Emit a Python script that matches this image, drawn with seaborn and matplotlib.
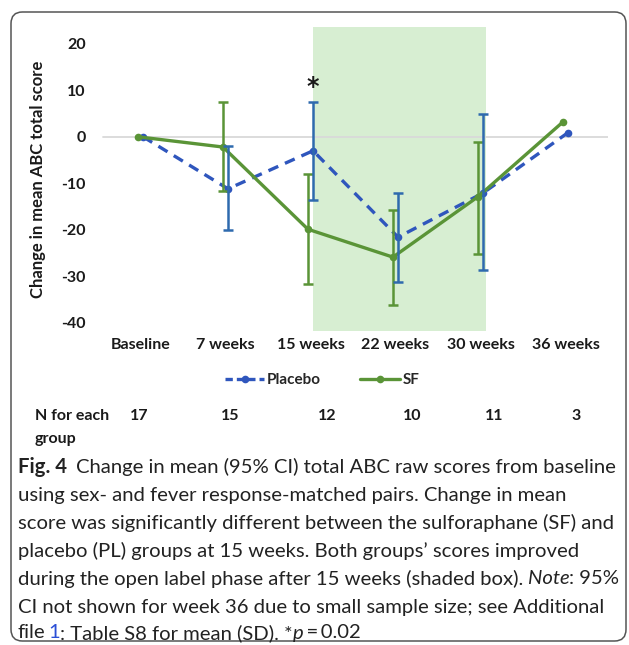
import numpy as np
import pandas as pd
import matplotlib
matplotlib.use("Agg")
import matplotlib.pyplot as plt
from matplotlib.patches import FancyBboxPatch
from matplotlib.lines import Line2D
import seaborn as sns

# --- data -------------------------------------------------------------
timepoints = ["Baseline", "7 weeks", "15 weeks", "22 weeks", "30 weeks", "36 weeks"]
n_per_group = ["17", "15", "12", "10", "11", "3"]

placebo_mean = [0.0, -11.2, -3.0, -21.6, -12.1, 0.9]
placebo_low = [np.nan, -20.0, -13.5, -31.3, -28.6, np.nan]
placebo_high = [np.nan, -2.0, 7.5, -12.0, 4.9, np.nan]

sf_mean = [0.0, -2.2, -19.9, -25.9, -12.9, 3.2]
sf_low = [np.nan, -11.7, -31.7, -36.1, -25.2, np.nan]
sf_high = [np.nan, 7.5, -7.9, -15.7, -1.1, np.nan]

y_ticks = [20, 10, 0, -10, -20, -30, -40]

# --- style --------------------------------------------------------------
sns.set_theme(style="white")
plt.rcParams["font.family"] = ["Lato", "DejaVu Sans"]

BLUE_LINE = "#2f56bd"
BLUE_BAR = "#2e6aae"
GREEN = "#5a9437"
SHADE = "#d7eed2"
DARK = "#1a1a1a"

W, H = 629, 645
fig = plt.figure(figsize=(W / 100, H / 100), dpi=100)


def fx(px):
    return px / W


def fy(py):
    return 1 - py / H


ax = fig.add_axes([fx(98), fy(331), fx(608) - fx(98), fy(26.7) - fy(331)])

pos = np.arange(len(timepoints))
df = pd.DataFrame({
    "pos": np.concatenate([pos + 0.03, pos - 0.03]),
    "change": placebo_mean + sf_mean,
    "group": ["Placebo"] * len(pos) + ["SF"] * len(pos),
})

# open label phase (shaded box)
ax.axvspan(2.03, 4.06, color=SHADE, lw=0, zorder=0)
ax.axhline(0, color="#d9d9d9", lw=1.3, zorder=1, xmin=0.01, xmax=1.0)

sns.lineplot(data=df[df.group == "Placebo"], x="pos", y="change", ax=ax,
             color=BLUE_LINE, lw=2.4, marker="o", markersize=5.5,
             markeredgewidth=0, zorder=3, legend=False)
ax.lines[-1].set_linestyle((0, (3.2, 2.2)))
sns.lineplot(data=df[df.group == "SF"], x="pos", y="change", ax=ax,
             color=GREEN, lw=2.4, marker="o", markersize=5.5,
             markeredgewidth=0, zorder=4, legend=False)

pm = np.array(placebo_mean)
sm = np.array(sf_mean)
ax.errorbar(pos - 0.03, sm,
            yerr=[sm - np.array(sf_low), np.array(sf_high) - sm],
            fmt="none", ecolor=GREEN, elinewidth=1.8, capsize=3.5,
            capthick=1.8, zorder=5)
ax.errorbar(pos + 0.03, pm,
            yerr=[pm - np.array(placebo_low), np.array(placebo_high) - pm],
            fmt="none", ecolor=BLUE_BAR, elinewidth=1.8, capsize=3.5,
            capthick=1.8, zorder=6)

ax.text(2.03, placebo_high[2] + 0.6, "*", ha="center", va="bottom",
        fontsize=17, fontweight="bold", color=DARK, family="DejaVu Sans")

ax.set_xlim(-0.5, 5.5)
ax.set_ylim(-41.8, 23.7)
ax.set_yticks(y_ticks)
ax.set_yticklabels([str(v) for v in y_ticks])
ax.set_xticks(pos)
ax.set_xticklabels(timepoints)
for lab in ax.get_xticklabels() + ax.get_yticklabels():
    lab.set_fontweight("bold")
    lab.set_fontsize(11.5)
    lab.set_color(DARK)
ax.tick_params(axis="y", length=0, pad=9)
ax.tick_params(axis="x", length=0, pad=5)
ax.set_xlabel("")
ax.set_ylabel("Change in mean ABC total score", fontsize=12,
              fontweight="bold", color=DARK, labelpad=11)
for s in ax.spines.values():
    s.set_visible(False)
ax.patch.set_alpha(0)

# legend
handles = [
    Line2D([], [], color=BLUE_LINE, lw=2.4, ls=(0, (2.2, 1.2)), marker="o",
           markersize=5.5, markeredgewidth=0),
    Line2D([], [], color=GREEN, lw=2.4, marker="o", markersize=5.5,
           markeredgewidth=0),
]
fig.legend(handles, ["Placebo", "SF"], loc="center",
           bbox_to_anchor=(fx(322), fy(380)), ncol=2, frameon=False,
           prop={"family": "Lato", "weight": "bold", "size": 11},
           handlelength=2.6, handletextpad=0.15, columnspacing=2.6)

# sample sizes
fig.text(fx(35), fy(416), "N for each", fontsize=11.5, fontweight="bold",
         color=DARK, ha="left", va="center")
fig.text(fx(35), fy(439), "group", fontsize=11.5, fontweight="bold",
         color=DARK, ha="left", va="center")
n_x = [139, 230, 327, 412, 494, 576]
for xp, n in zip(n_x, n_per_group):
    fig.text(fx(xp), fy(416), n, fontsize=11.5, fontweight="bold",
             color=DARK, ha="center", va="center")

# caption
fig.canvas.draw()
renderer = fig.canvas.get_renderer()
CAP = 14.6


def caption_line(py, segments, x0=18):
    x = x0
    for text, style, gap in segments:
        kw = dict(fontsize=CAP, color="#222222", ha="left", va="center")
        kw.update(style)
        t = fig.text(fx(x), fy(py), text, **kw)
        x += t.get_window_extent(renderer).width + gap


sp = CAP * 0.3
caption = [
    (467, [("Fig. 4", {"fontweight": "bold"}, sp * 2.0),
           ("Change in mean (95% CI) total ABC raw scores from baseline", {}, 0)]),
    (495, [("using sex- and fever response-matched pairs. Change in mean", {}, 0)]),
    (523, [("score was significantly different between the sulforaphane (SF) and", {}, 0)]),
    (551, [("placebo (PL) groups at 15 weeks. Both groups\u2019 scores improved", {}, 0)]),
    (579, [("during the open label phase after 15 weeks (shaded box).", {}, sp),
           ("Note", {"style": "italic"}, 0),
           (": 95%", {}, 0)]),
    (607, [("CI not shown for week 36 due to small sample size; see Additional", {}, 0)]),
    (633, [("file", {}, sp * 0.7),
           ("1", {"color": "#2b4fd6"}, 0),
           (": Table S8 for mean (SD). *", {}, 0),
           ("p", {"style": "italic"}, 0),
           ("\u2009=\u20090.02", {}, 0)]),
]
for py, segs in caption:
    caption_line(py, segs)

# rounded frame around figure and caption
frame = FancyBboxPatch((fx(11), fy(641)), fx(626) - fx(11), fy(12) - fy(641),
                       boxstyle="round,pad=0,rounding_size=0.018",
                       transform=fig.transFigure, fill=False,
                       edgecolor="#555555", lw=1.1, clip_on=False)
fig.patches.append(frame)

fig.savefig("out.png", dpi=100, facecolor="white")
